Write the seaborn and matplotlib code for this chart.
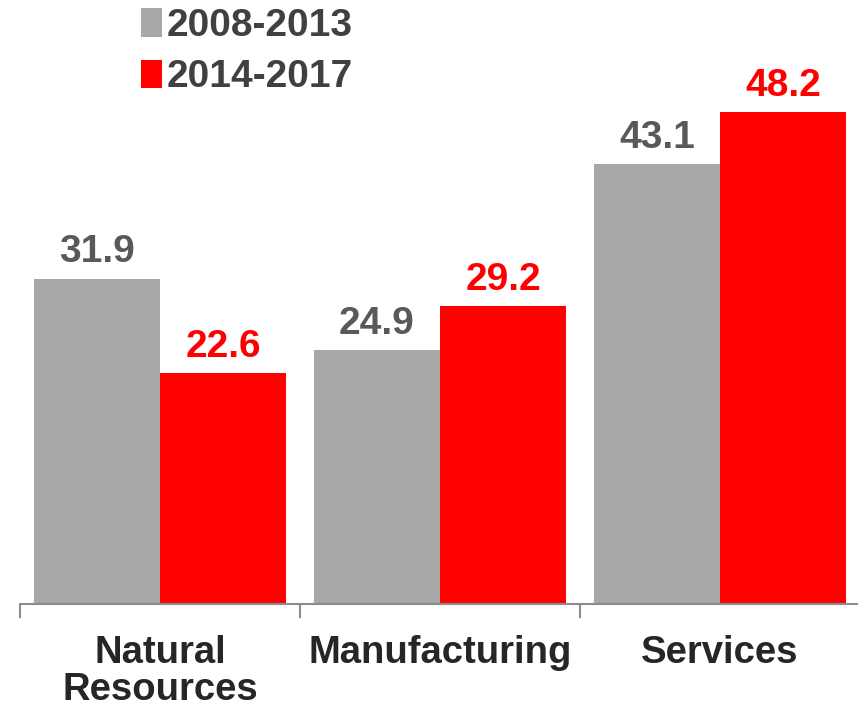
import matplotlib
matplotlib.use("Agg")
import matplotlib.pyplot as plt
import seaborn as sns
import pandas as pd

categories = ["Natural\nResources", "Manufacturing", "Services"]
periods = ["2008-2013", "2014-2017"]
values_2008_2013 = [31.9, 24.9, 43.1]
values_2014_2017 = [22.6, 29.2, 48.2]

bar_colors = {"2008-2013": "#A8A8A8", "2014-2017": "#FF0000"}
label_colors = {"2008-2013": "#595959", "2014-2017": "#FF0000"}

df = pd.DataFrame({
    "category": categories * 2,
    "period": [periods[0]] * 3 + [periods[1]] * 3,
    "value": values_2008_2013 + values_2014_2017,
})

sns.set_theme(style="white")
plt.rcParams["font.family"] = ["Liberation Sans", "DejaVu Sans"]

fig = plt.figure(figsize=(8.58, 7.08), dpi=100)
W, H = 858, 708
left_px, right_px, base_px = 20, 860, 604
ax = fig.add_axes([left_px / W, (H - base_px) / H, (right_px - left_px) / W, base_px / H])

sns.barplot(data=df, x="category", y="value", hue="period", order=categories,
            hue_order=periods, palette=bar_colors, width=0.9, saturation=1,
            edgecolor="none", linewidth=0, ax=ax)

ax.set_xlim(-0.5, 2.5)
ax.set_ylim(0, base_px / 10.2)
ax.set_xlabel("")
ax.set_ylabel("")
ax.set_yticks([])
for side in ["left", "right", "top"]:
    ax.spines[side].set_visible(False)
ax.spines["bottom"].set_color("#8C8C8C")
ax.spines["bottom"].set_linewidth(1.5)

# category labels below, separator ticks at group boundaries
ax.tick_params(axis="x", which="major", length=0, pad=22, labelsize=27.5,
               labelcolor="#262626")
for lbl in ax.get_xticklabels():
    lbl.set_fontweight("bold")
    lbl.set_linespacing(1.05)
ax.set_xticks([-0.5, 0.5, 1.5, 2.5], minor=True)
ax.tick_params(axis="x", which="minor", length=10, width=1.5, color="#8C8C8C",
               direction="out", bottom=True)

# value labels above each bar
for container, period in zip(ax.containers, periods):
    ax.bar_label(container, fmt="%.1f", padding=6, fontsize=28,
                 fontweight="bold", color=label_colors[period])

handles, labels = ax.get_legend_handles_labels()
leg = ax.legend(handles, labels, loc="upper left", bbox_to_anchor=(0.102, 1.045),
                frameon=False, handlelength=0.55, handleheight=0.75,
                handletextpad=0.12, labelspacing=0.4,
                prop={"size": 28, "weight": "bold"}, labelcolor="#404040")

fig.savefig("out.png", dpi=100)
